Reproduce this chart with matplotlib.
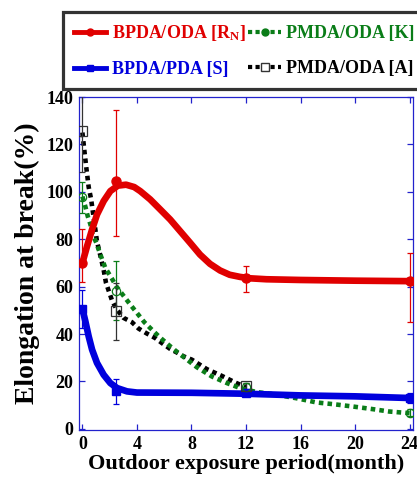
import matplotlib
matplotlib.use("Agg")
import matplotlib.pyplot as plt
from matplotlib.lines import Line2D

plt.rcParams['font.family'] = ['Liberation Serif', 'DejaVu Serif']
plt.rcParams['font.weight'] = 'bold'
plt.rcParams['mathtext.fontset'] = 'custom'
plt.rcParams['mathtext.rm'] = 'Liberation Serif:bold'
plt.rcParams['mathtext.it'] = 'Liberation Serif:bold'
plt.rcParams['mathtext.bf'] = 'Liberation Serif:bold'

# ---- measured points ----
x_pts = [0, 2.5, 12, 24]
x_pts_a = [0, 2.5, 12]
rn_y = [70, 104.5, 63.8, 62.5]
rn_lo = [8, 23, 6, 17.5]
rn_hi = [14.5, 30, 4.7, 11.5]
s_y = [50.7, 16, 15.2, 13]
s_lo = [8, 5.4, 1.5, 2]
s_hi = [8, 5, 1.5, 2]
k_y = [97.6, 58.3, 17.7, 6.8]
k_err = [6.5, 12.5, 1.5, 1.5]
a_y = [125.5, 49.5, 18]
a_err = [17, 12, 1.5]

# ---- fitted curves ----
rn_cx = [0, 0.34, 0.71, 1.07, 1.56, 2.05, 2.6, 3.2, 3.8, 4.24, 4.97, 5.7, 6.44, 7.17,
         7.9, 8.63, 9.36, 10.1, 10.8, 11.56, 12.3, 13.5, 16, 20, 24]
rn_cy = [70, 77, 84.1, 90.4, 96.1, 100.3, 102.6, 103, 102, 100.3, 96.8, 92.6, 88.3, 83.4,
         78.5, 73.5, 69.6, 66.8, 65, 64.1, 63.5, 63.1, 62.8, 62.5, 62.3]
s_cx = [0, 0.22, 0.46, 0.71, 1.07, 1.56, 2.05, 2.54, 3.27, 4, 8, 12, 16, 20, 24]
s_cy = [50.6, 45.3, 39, 33.4, 27.8, 22.8, 19.3, 17.2, 15.8, 15.3, 15.2, 14.8, 14.1, 13.7, 13]
k_cx = [0, 0.22, 0.39, 0.59, 0.75, 1.02, 1.32, 1.68, 2.17, 2.5, 3.46, 4, 4.54, 5.1, 5.66,
        6.24, 6.8, 7.36, 8.39, 9.49, 10.6, 11.56, 12.78, 13.9, 15.7, 17.2, 18.4, 19.85,
        21.3, 22.5, 24]
k_cy = [98, 93.7, 89.7, 86.2, 82, 78.5, 73.5, 67.9, 63.3, 60, 52.8, 48.9, 45, 41.8, 38.7,
        35.8, 33.1, 30.6, 26, 22.1, 19.3, 17.2, 15.5, 14.7, 12.9, 11.1, 10.4, 9.4,
        8.3, 7.3, 6.6]
a_cx = [0, 0.15, 0.3, 0.46, 0.64, 0.83, 1.07, 1.32, 1.56, 1.73, 2.17, 2.5, 3.02, 3.63,
        4.12, 4.73, 5.34, 5.83, 6.44, 6.93, 7.41, 8.02, 9.12, 10.2, 11.3, 12]
a_cy = [125, 117, 109.5, 102, 96.8, 89, 79, 73, 67, 61.6, 54.2, 50.5, 46.8, 45,
        42.3, 40.2, 38.3, 36.2, 33.7, 32.2, 30.6, 29.2, 25.2, 22.4, 19.3, 17.6]

labels = [r'BPDA/ODA [R$_\mathrm{N}$]', 'BPDA/PDA [S]', 'PMDA/ODA [K]', 'PMDA/ODA [A]']
xticks = [0, 4, 8, 12, 16, 20, 24]
yticks = [0, 20, 40, 60, 80, 100, 120, 140]

RED = '#e00000'
BLUE = '#0000dd'
GREEN = '#0a7d18'
BLACK = '#000000'
AXC = '#2222cc'

fig = plt.figure(figsize=(4.17, 4.82), dpi=100)
ax = fig.add_axes([79/417, 1-430/482, (413-79)/417, (430-97)/482])

dot = (0, (1, 0.9))
ax.plot(a_cx, a_cy, color=BLACK, lw=3.3, ls=dot, dash_capstyle='butt', zorder=3)
ax.plot(k_cx, k_cy, color=GREEN, lw=3.3, ls=dot, dash_capstyle='butt', zorder=3)
ax.plot(rn_cx, rn_cy, color=RED, lw=4.8, solid_capstyle='round', solid_joinstyle='round', zorder=4)
ax.plot(s_cx, s_cy, color=BLUE, lw=4.8, solid_capstyle='round', solid_joinstyle='round', zorder=4)

ek = dict(capsize=2.5, elinewidth=0.9, capthick=0.9, ls='none')
ax.errorbar(x_pts, rn_y, yerr=[rn_lo, rn_hi], color=RED, marker='o', ms=6.5, zorder=5, **ek)
ax.errorbar(x_pts, s_y, yerr=[s_lo, s_hi], color=BLUE, marker='s', ms=6, zorder=5, **ek)
ax.errorbar(x_pts, k_y, yerr=k_err, color=GREEN, marker='o', ms=6, mfc='none',
            mew=0.9, zorder=5, **ek)
ax.errorbar(x_pts_a, a_y, yerr=a_err, color=BLACK, ecolor='#333333', marker='s', ms=7,
            mfc='none', mec='#333333', mew=0.9, zorder=5, **ek)

ax.set_xlim(-0.25, 24.25)
ax.set_ylim(-0.5, 140)
ax.set_xticks(xticks)
ax.set_yticks(yticks)
for sp in ax.spines.values():
    sp.set_color(AXC)
    sp.set_linewidth(0.9)
ax.tick_params(direction='in', length=4, width=0.9, color=AXC, top=True, right=True,
               labelsize=13, pad=4)
for t in ax.get_xticklabels() + ax.get_yticklabels():
    t.set_fontweight('bold')
ax.set_xlabel('Outdoor exposure period(month)', fontsize=16, fontweight='bold', labelpad=1)
ax.set_ylabel('Elongation at break(%)', fontsize=20, fontweight='bold', labelpad=5)

handles = [
    Line2D([], [], color=RED, lw=3.5, marker='o', ms=5),
    Line2D([], [], color=BLUE, lw=3.5, marker='s', ms=5),
    Line2D([], [], color=GREEN, lw=3, ls=(0, (1, 0.8)), marker='o', ms=5, mfc=GREEN),
    Line2D([], [], color=BLACK, lw=3, ls=(0, (1, 0.8)), marker='s', ms=6, mfc='white',
           mec='#333333', mew=1),
]
leg = fig.legend(handles, labels, loc='upper left', bbox_to_anchor=(63/417, 1-12/482),
                 ncol=2, fontsize=13, frameon=True, fancybox=False, edgecolor='black',
                 handlelength=1.8, handletextpad=0.3, columnspacing=0.15,
                 borderpad=0.6, labelspacing=1.0, borderaxespad=0, numpoints=1)
leg.get_frame().set_linewidth(2.3)
for txt, c in zip(leg.get_texts(), [RED, BLUE, GREEN, BLACK]):
    txt.set_color(c)
    txt.set_fontweight('bold')

fig.savefig('out.png', dpi=100)
